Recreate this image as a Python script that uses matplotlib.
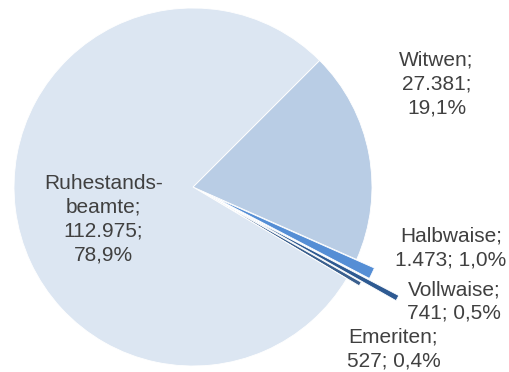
import matplotlib.pyplot as plt

# Versorgungsempfänger nach Art
names = ["Witwen", "Halbwaise", "Vollwaise", "Emeriten", "Ruhestands-\nbeamte"]
counts = [27381, 1473, 741, 527, 112975]
colors = ["#B9CDE5", "#558ED5", "#2E5A92", "#3A5F8E", "#DCE6F2"]
explode = [0.0, 0.11, 0.30, 0.08, 0.0]

# label centres in pie units (radius = 1)
label_pos = [(1.36, 0.575), (1.44, -0.34), (1.46, -0.64), (1.12, -0.905), (-0.50, -0.18)]
label_layout = ["stack", "two", "two", "two", "stack"]

def de_num(v):
    return f"{v:,}".replace(",", ".")

def de_pct(p):
    return f"{p:.1f}%".replace(".", ",")

total = sum(counts)

fig = plt.figure(figsize=(5.09, 3.72), dpi=100)
ax = fig.add_axes([14 / 509, 6 / 372, 358 / 509, 358 / 372])

ax.pie(counts, colors=colors, explode=explode, startangle=45,
       counterclock=False, radius=1.0,
       wedgeprops=dict(edgecolor="white", linewidth=0.6))
ax.set_xlim(-1, 1)
ax.set_ylim(-1, 1)
ax.set_aspect("equal")
ax.axis("off")

for name, v, (x, y), lay in zip(names, counts, label_pos, label_layout):
    pct = de_pct(v / total * 100)
    if lay == "stack":
        s = f"{name};\n{de_num(v)};\n{pct}"
    else:
        s = f"{name};\n{de_num(v)}; {pct}"
    ax.text(x, y, s, ha="center", va="center", fontsize=15,
            family="Liberation Sans", color="#404040",
            linespacing=1.32, clip_on=False)

fig.savefig("out.png", dpi=100)
